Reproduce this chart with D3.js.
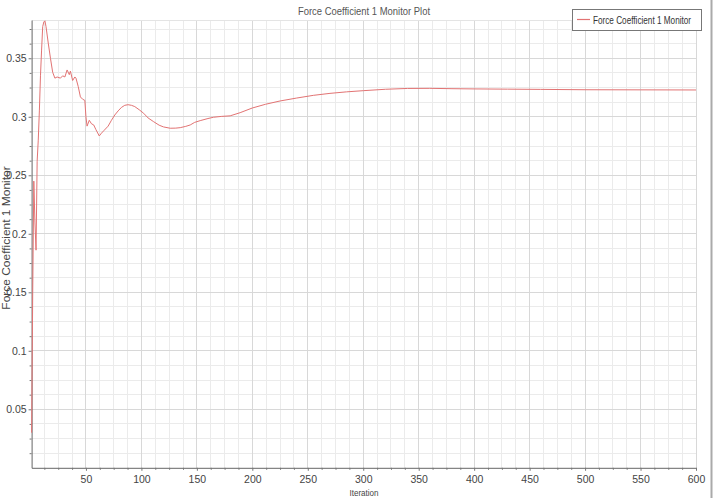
<!DOCTYPE html>
<html>
<head>
<meta charset="utf-8">
<script src="https://cdn.jsdelivr.net/npm/d3@7"></script>
<style>
html,body{margin:0;padding:0;background:#fff;}
svg{display:block;}
text{font-family:"Liberation Sans",Arial,sans-serif;}
</style>
</head>
<body>
<svg id="chart" width="717" height="498"></svg>
<script>
const titleText = "Force Coefficient 1 Monitor Plot";
const seriesName = "Force Coefficient 1 Monitor";
const yLabel = "Force Coefficient 1 Monitor";
const xLabel = "Iteration";

const iterations = [1,2,3,4,5,6,7,8,9,10,11,12,13,14,16,18,20,22,24,27,29,31,33,35,36,38,40,41,43,45,47,49,50,51,53,55,57,59,62,64,66,70,73,76,79,82,85,88,91,94,98,102,106,111,116,120,126,131,135,140,144,148,153,160,165,172,180,189,200,212,225,240,255,270,285,300,320,340,360,380,400,430,460,500,550,600];
const values = [0.03,0.15,0.245,0.21,0.186,0.262,0.28,0.305,0.335,0.357,0.377,0.381,0.382,0.377,0.363,0.350,0.338,0.333,0.334,0.333,0.335,0.334,0.340,0.336,0.339,0.331,0.334,0.333,0.326,0.317,0.315,0.314,0.300,0.292,0.297,0.294,0.293,0.289,0.2836,0.286,0.288,0.292,0.297,0.3015,0.305,0.308,0.3098,0.3103,0.3098,0.3087,0.306,0.303,0.299,0.2958,0.2928,0.2913,0.2902,0.2903,0.2907,0.2918,0.293,0.2952,0.2967,0.2985,0.2996,0.3003,0.3008,0.3035,0.3075,0.3107,0.3135,0.3160,0.3183,0.3200,0.3213,0.3223,0.3235,0.3242,0.3243,0.3240,0.3238,0.3236,0.3234,0.3231,0.3230,0.3229];

const xTicks = [50,100,150,200,250,300,350,400,450,500,550,600];
const yTicks = [0.05,0.1,0.15,0.2,0.25,0.3,0.35];
const xMinor = d3.range(12.5, 600.1, 12.5);
const yMinor = d3.range(0.0125, 0.383, 0.0125);

const svg = d3.select("#chart");
const L = 31.6, R = 696, T = 20, B = 467.8;
const x = d3.scaleLinear().domain([1, 600]).range([L, R]);
const y = d3.scaleLinear().domain([0, 0.3827]).range([B, T]);

// grid
const grid = svg.append("g");
grid.selectAll(".vmin").data(xMinor).join("line")
  .attr("x1", d => x(d)).attr("x2", d => x(d)).attr("y1", T).attr("y2", B)
  .attr("stroke", "#ebebeb").attr("stroke-width", 1).attr("shape-rendering","crispEdges");
grid.selectAll(".hmin").data(yMinor).join("line")
  .attr("x1", L).attr("x2", R).attr("y1", d => y(d)).attr("y2", d => y(d))
  .attr("stroke", "#ebebeb").attr("stroke-width", 1).attr("shape-rendering","crispEdges");
grid.selectAll(".vmaj").data(xTicks).join("line")
  .attr("x1", d => x(d)).attr("x2", d => x(d)).attr("y1", T).attr("y2", B)
  .attr("stroke", "#d8d8d8").attr("stroke-width", 1).attr("shape-rendering","crispEdges");
grid.selectAll(".hmaj").data(yTicks).join("line")
  .attr("x1", L).attr("x2", R).attr("y1", d => y(d)).attr("y2", d => y(d))
  .attr("stroke", "#d8d8d8").attr("stroke-width", 1).attr("shape-rendering","crispEdges");
grid.append("line").attr("x1", L).attr("x2", R).attr("y1", T).attr("y2", T)
  .attr("stroke", "#e4e4e4").attr("shape-rendering","crispEdges");

// axes
const xAxis = svg.append("g").attr("transform", `translate(0,${B})`)
  .call(d3.axisBottom(x).tickValues(xTicks).tickSize(3).tickSizeOuter(0).tickFormat(d3.format("d")));
svg.append("g").attr("transform", `translate(0,${B})`)
  .call(d3.axisBottom(x).tickValues(xMinor.filter(v => v % 50 !== 0)).tickSize(2).tickSizeOuter(0).tickFormat(""))
  .call(g => g.select(".domain").remove());
const yAxis = svg.append("g").attr("transform", `translate(${L},0)`)
  .call(d3.axisLeft(y).tickValues(yTicks).tickSize(3).tickSizeOuter(0).tickFormat(d => String(+d.toFixed(2))));
svg.append("g").attr("transform", `translate(${L},0)`)
  .call(d3.axisLeft(y).tickValues(yMinor.filter(v => Math.abs(v/0.05 - Math.round(v/0.05)) > 1e-6)).tickSize(2).tickSizeOuter(0).tickFormat(""))
  .call(g => g.select(".domain").remove());

svg.selectAll(".domain").attr("stroke", "#666");
svg.selectAll(".tick line").attr("stroke", "#777");
xAxis.selectAll("text").attr("font-size", 10.5).attr("fill", "#444").attr("dy", "0.9em").attr("y", 6);
yAxis.selectAll("text").attr("font-size", 10.5).attr("fill", "#444").attr("x", -5);

// line
const line = d3.line().x((d, i) => x(iterations[i])).y(d => y(d));
svg.append("path").datum(values).attr("d", line)
  .attr("fill", "none").attr("stroke", "#e27373").attr("stroke-width", 1);

// title
svg.append("text").attr("transform", "translate(364,15) scale(0.86,1)").attr("text-anchor", "middle")
  .attr("font-size", 11).attr("fill", "#555").text(titleText);

// axis labels
svg.append("text").attr("transform", "translate(364,496) scale(0.85,1)").attr("text-anchor", "middle")
  .attr("font-size", 9.5).attr("fill", "#444").text(xLabel);
svg.append("text").attr("transform", "translate(10,238) rotate(-90) scale(1.14,1)").attr("text-anchor", "middle")
  .attr("font-size", 10.5).attr("fill", "#444").text(yLabel);

// legend
const lg = svg.append("g");
lg.append("rect").attr("x", 572.5).attr("y", 9.5).attr("width", 129).attr("height", 21)
  .attr("fill", "#fff").attr("stroke", "#777").attr("stroke-width", 1);
lg.append("line").attr("x1", 577).attr("x2", 590).attr("y1", 19.5).attr("y2", 19.5)
  .attr("stroke", "#e27373").attr("stroke-width", 1.2);
lg.append("text").attr("transform", "translate(593,23.5) scale(0.78,1)")
  .attr("font-size", 10.5).attr("fill", "#333").text(seriesName);

// right border
svg.append("line").attr("x1", 711.5).attr("x2", 711.5).attr("y1", 0).attr("y2", 498)
  .attr("stroke", "#aaa").attr("stroke-width", 2);
</script>
</body>
</html>
